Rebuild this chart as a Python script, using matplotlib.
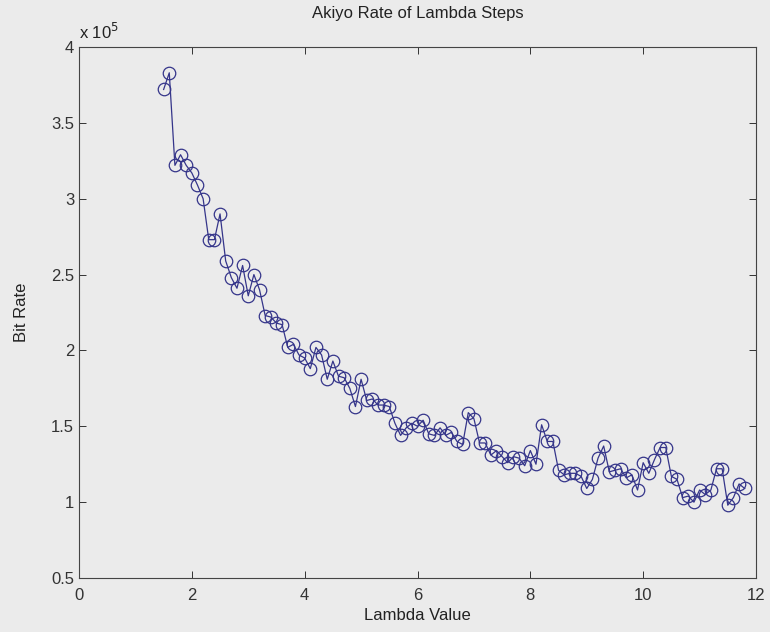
import matplotlib
matplotlib.use("Agg")
import matplotlib.pyplot as plt
from matplotlib.ticker import FuncFormatter

# lambda values and measured bit rates (x 1e5)
lambda_vals = [
    1.5, 1.6, 1.7, 1.8, 1.9, 2.0, 2.1, 2.2, 2.3, 2.4,
    2.5, 2.6, 2.7, 2.8, 2.9, 3.0, 3.1, 3.2, 3.3, 3.4,
    3.5, 3.6, 3.7, 3.8, 3.9, 4.0, 4.1, 4.2, 4.3, 4.4,
    4.5, 4.6, 4.7, 4.8, 4.9, 5.0, 5.1, 5.2, 5.3, 5.4,
    5.5, 5.6, 5.7, 5.8, 5.9, 6.0, 6.1, 6.2, 6.3, 6.4,
    6.5, 6.6, 6.7, 6.8, 6.9, 7.0, 7.1, 7.2, 7.3, 7.4,
    7.5, 7.6, 7.7, 7.8, 7.9, 8.0, 8.1, 8.2, 8.3, 8.4,
    8.5, 8.6, 8.7, 8.8, 8.9, 9.0, 9.1, 9.2, 9.3, 9.4,
    9.5, 9.6, 9.7, 9.8, 9.9, 10.0, 10.1, 10.2, 10.3, 10.4,
    10.5, 10.6, 10.7, 10.8, 10.9, 11.0, 11.1, 11.2, 11.3, 11.4,
    11.5, 11.6, 11.7, 11.8,
]
bit_rate_e5 = [
    3.72, 3.83, 3.22, 3.29, 3.22, 3.17, 3.09, 3.00, 2.73, 2.73,
    2.90, 2.59, 2.48, 2.41, 2.56, 2.36, 2.50, 2.40, 2.23, 2.22,
    2.18, 2.17, 2.02, 2.04, 1.97, 1.95, 1.88, 2.02, 1.97, 1.81,
    1.93, 1.83, 1.82, 1.75, 1.63, 1.81, 1.67, 1.68, 1.64, 1.64,
    1.63, 1.52, 1.44, 1.49, 1.52, 1.50, 1.54, 1.45, 1.44, 1.49,
    1.44, 1.46, 1.40, 1.38, 1.59, 1.55, 1.39, 1.39, 1.31, 1.34,
    1.30, 1.26, 1.30, 1.29, 1.24, 1.34, 1.25, 1.51, 1.40, 1.40,
    1.21, 1.18, 1.19, 1.19, 1.17, 1.09, 1.15, 1.29, 1.37, 1.20,
    1.21, 1.22, 1.16, 1.18, 1.08, 1.26, 1.19, 1.28, 1.36, 1.36,
    1.17, 1.15, 1.03, 1.04, 1.00, 1.08, 1.05, 1.08, 1.22, 1.22,
    0.98, 1.03, 1.12, 1.09,
]
bit_rate = [v * 1e5 for v in bit_rate_e5]

x_ticks = [0, 2, 4, 6, 8, 10, 12]
y_ticks = [0.5e5, 1e5, 1.5e5, 2e5, 2.5e5, 3e5, 3.5e5, 4e5]

plt.rcParams["font.family"] = ["Liberation Sans", "DejaVu Sans"]
bg = "#ebebeb"
line_color = "#35358a"

fig = plt.figure(figsize=(7.7, 6.32), dpi=100, facecolor=bg)
ax = fig.add_axes([79 / 770, 54 / 632, 677 / 770, 531 / 632])
ax.set_facecolor(bg)

ax.plot(lambda_vals, bit_rate, color=line_color, linewidth=0.9,
        marker="o", markersize=9, markerfacecolor="none",
        markeredgecolor=line_color, markeredgewidth=0.9)

ax.set_xlim(0, 12)
ax.set_ylim(0.5e5, 4e5)
ax.set_xticks(x_ticks)
ax.set_yticks(y_ticks)
ax.yaxis.set_major_formatter(FuncFormatter(lambda v, _: f"{v / 1e5:g}"))
ax.tick_params(direction="in", top=True, right=True, length=5,
               width=0.7, labelsize=12, colors="#333333")
ax.tick_params(axis="x", pad=7)
for s in ax.spines.values():
    s.set_linewidth(0.8)
    s.set_color("#444444")

ax.text(0.0, 1.01, r"x 10$^5$", transform=ax.transAxes, fontsize=12,
        ha="left", va="bottom", color="#222222")
ax.set_title("Akiyo Rate of Lambda Steps", fontsize=12, pad=21, color="#222222")
ax.set_xlabel("Lambda Value", fontsize=12, labelpad=4, color="#222222")
ax.set_ylabel("Bit Rate", fontsize=12, labelpad=16, color="#222222")

fig.savefig("out.png", dpi=100, facecolor=bg)
